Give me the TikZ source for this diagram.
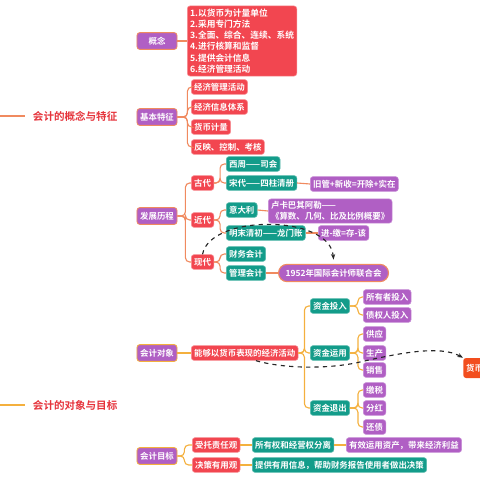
\documentclass[tikz,border=0pt]{standalone}
\usepackage{fontspec}
\newfontfamily\cjk{Noto Sans CJK SC}[BoldFont={Noto Sans CJK SC Bold}]
\usetikzlibrary{arrows.meta, positioning}

\definecolor{mmpurple}{HTML}{B05FC4}
\definecolor{mmred}{HTML}{F24650}
\definecolor{mmteal}{HTML}{139C8A}
\definecolor{mmorange}{HTML}{F08A5F}
\definecolor{mmgold}{HTML}{F4B03E}
\definecolor{mmtitle}{HTML}{E5333B}
\definecolor{mmflame}{HTML}{F24E1E}

\begin{document}
\begin{tikzpicture}[x=0.025cm, y=-0.025cm]
\tikzset{
  box/.style={
    rounded corners=2pt,
    text=white,
    font=\cjk\bfseries\fontsize{6}{7.5}\selectfont,
    inner xsep=2pt,
    inner ysep=0pt,
    minimum height=0.37cm,
    line width=0.4pt,
    anchor=west
  },
  redbox/.style={box, fill=mmred, draw=mmred!60!white},
  purplebox/.style={box, fill=mmpurple, draw=mmpurple!70!white},
  tealbox/.style={box, fill=mmteal, draw=mmteal!70!white},
  topic/.style={
    box,
    fill=mmpurple,
    draw=mmorange,
    line width=0.6pt,
    minimum width=1cm,
    minimum height=0.42cm,
    anchor=center
  },
  link/.style={draw=mmorange, line width=0.8pt, rounded corners=3pt},
  goldlink/.style={link, draw=mmgold},
  dasharrow/.style={-{Stealth[length=4pt]}, dashed, thick, black!85},
  title/.style={text=mmtitle, font=\cjk\bfseries\fontsize{7.5}{9}\selectfont, anchor=west}
}
\useasboundingbox (0,0) rectangle (480,480);

% Left titles
\coordinate (edgeA) at (0,116);
\node[title] (titleA) at (28,116) {会计的概念与特征};
\draw[link, shorten >=2pt] (edgeA) -- (titleA.west);
\coordinate (edgeB) at (0,405);
\node[title] (titleB) at (28,405) {会计的对象与目标};
\draw[goldlink, shorten >=2pt] (edgeB) -- (titleB.west);

% Concept
\node[topic] (concept) at (157,41) {概念};
\node[redbox, align=left, inner ysep=2pt, font=\cjk\bfseries\fontsize{6.2}{8}\selectfont] (defbox) at (187,41)
  {1.以货币为计量单位\\2.采用专门方法\\3.全面、综合、连续、系统\\4.进行核算和监督\\5.提供会计信息\\6.经济管理活动};
\draw[link] (concept.east) -- (defbox.west);

% Basic features
\node[topic] (feature) at (157,117) {基本特征};
\node[redbox] (feat1) at (191,87) {经济管理活动};
\node[redbox] (feat2) at (191,107) {经济信息体系};
\node[redbox] (feat3) at (191,127) {货币计量};
\node[redbox] (feat4) at (191,147) {反映、控制、考核};
\foreach \f in {feat1, feat2, feat3, feat4}
  \draw[link] (feature.east) -- ++(10,0) |- (\f.west);

% History
\node[topic] (history) at (157,216) {发展历程};
\node[redbox] (ancient) at (191,183) {古代};
\node[redbox] (modern) at (191,220) {近代};
\node[redbox] (current) at (191,262) {现代};
\foreach \f in {ancient, modern, current}
  \draw[link] (history.east) -- ++(8,0) |- (\f.west);

% Ancient
\node[tealbox] (xizhou) at (226,164) {西周——司会};
\node[tealbox] (songdai) at (226,183) {宋代——四柱清册};
\node[purplebox] (sizhu) at (310,184) {旧管+新收=开除+实在};
\foreach \f in {xizhou, songdai}
  \draw[link] (ancient.east) -- ++(6,0) |- (\f.west);
\draw[link] (songdai.east) -- (sizhu.west);

% Modern
\node[tealbox] (italy) at (226,210) {意大利};
\node[purplebox, align=left, inner ysep=2pt] (pacioli) at (268,211)
  {卢卡巴其阿勒——\\《算数、几何、比及比例概要》};
\node[tealbox] (longmen) at (226,233) {明末清初——龙门账};
\node[purplebox] (jinjiao) at (318,233) {进-缴=存-该};
\foreach \f in {italy, longmen}
  \draw[link] (modern.east) -- ++(6,0) |- (\f.west);
\draw[link] (italy.east) -- (pacioli.west);
\draw[link] (longmen.east) -- (jinjiao.west);

% Current
\node[tealbox] (finance) at (226,254) {财务会计};
\node[tealbox] (manage) at (226,273) {管理会计};
\node[purplebox, draw=mmorange, line width=0.8pt, rounded corners=6pt, minimum height=0.43cm, inner xsep=5pt] (meeting) at (278,273) {1952年国际会计师联合会};
\foreach \f in {finance, manage}
  \draw[link] (current.east) -- ++(6,0) |- (\f.west);
\draw[link] (manage.east) -- (meeting.west);
\draw[dasharrow] (current.north) .. controls (210,214) and (330,214) .. ([yshift=3pt]meeting.north);

% Accounting object
\node[topic, draw=mmgold] (object) at (157,353) {会计对象};
\node[redbox] (activity) at (191,353) {能够以货币表现的经济活动};
\draw[goldlink] (object.east) -- (activity.west);
\node[tealbox] (fundin) at (310,306) {资金投入};
\node[tealbox] (funduse) at (310,353) {资金运用};
\node[tealbox] (fundout) at (310,408) {资金退出};
\foreach \f in {fundin, funduse, fundout}
  \draw[goldlink] (activity.east) -- ++(6,0) |- (\f.west);

\node[purplebox] (owner) at (363,297) {所有者投入};
\node[purplebox] (creditor) at (363,315) {债权人投入};
\foreach \f in {owner, creditor}
  \draw[goldlink] (fundin.east) -- ++(8,0) |- (\f.west);
\node[purplebox] (supply) at (363,334) {供应};
\node[purplebox] (produce) at (363,353) {生产};
\node[purplebox] (sales) at (363,370) {销售};
\foreach \f in {supply, produce, sales}
  \draw[goldlink] (funduse.east) -- ++(8,0) |- (\f.west);
\node[purplebox] (tax) at (363,390) {缴税};
\node[purplebox] (dividend) at (363,408) {分红};
\node[purplebox] (repay) at (363,427) {还债};
\foreach \f in {tax, dividend, repay}
  \draw[goldlink] (fundout.east) -- ++(8,0) |- (\f.west);

% Money node at the edge
\node[box, fill=mmflame, rounded corners=2pt, minimum height=0.5cm] (money) at (463,368) {货币资金};
\draw[dasharrow] ([xshift=8pt]activity.south) .. controls (285,369) and (330,369) .. (360,362)
  .. controls (400,353) and (440,345) .. (money.north west);

% Accounting goal
\node[topic, draw=mmgold] (goal) at (157,456) {会计目标};
\node[redbox] (steward) at (192,445) {受托责任观};
\node[redbox] (decision) at (192,465) {决策有用观};
\foreach \f in {steward, decision}
  \draw[goldlink] (goal.east) -- ++(7,0) |- (\f.west);
\node[tealbox] (separate) at (252,445) {所有权和经营权分离};
\node[purplebox] (benefit) at (346,445) {有效运用资产，带来经济利益};
\node[tealbox] (usefulinfo) at (252,465) {提供有用信息，帮助财务报告使用者做出决策};
\draw[goldlink] (steward.east) -- (separate.west);
\draw[goldlink] (separate.east) -- (benefit.west);
\draw[goldlink] (decision.east) -- (usefulinfo.west);

\end{tikzpicture}
\end{document}
